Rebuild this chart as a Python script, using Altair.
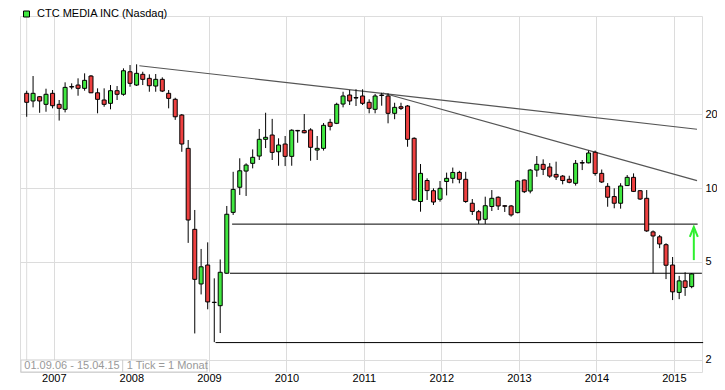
import altair as alt
import pandas as pd

# ---------------- data (monthly candles, Sep 2006 .. Apr 2015) ----------------
dates = pd.date_range("2006-09-01", periods=104, freq="MS").strftime("%Y-%m-%d").tolist()

opens = [24.28, 22.60, 23.52, 21.90, 24.28, 21.90, 20.90, 25.87, 26.24, 25.44,
         28.55, 24.40, 22.81, 22.11, 24.88, 24.06, 29.72, 26.24, 29.01, 27.94,
         25.99, 27.68, 24.28, 22.96, 19.81, 14.50, 6.79, 4.07, 4.86, 3.43,
         3.32, 4.50, 7.96, 10.07, 11.72, 12.60, 13.49, 15.78, 16.43, 14.04,
         15.10, 13.45, 17.15, 17.12, 17.23, 14.27, 14.50, 18.50, 18.33, 21.96,
         23.90, 23.34, 23.68, 22.32, 20.90, 23.90, 23.68, 20.13, 21.41, 21.56,
         15.93, 8.81, 10.73, 9.75, 9.00, 10.63, 10.95, 11.57, 10.85, 8.67,
         8.01, 7.46, 8.41, 9.17, 8.47, 8.45, 7.94, 10.78, 9.72, 11.83,
         12.48, 12.17, 11.36, 11.18, 10.85, 10.45, 12.69, 12.66, 13.98, 11.47,
         10.16, 9.23, 8.67, 10.23, 11.05, 9.75, 9.08, 6.63, 6.33, 5.88,
         4.86, 3.76, 4.19, 3.97]
highs = [24.88, 28.55, 23.68, 25.35, 25.04, 22.81, 26.91, 26.66, 27.94, 29.28,
         28.82, 25.44, 25.44, 26.24, 25.99, 30.68, 31.65, 31.86, 29.72, 29.01,
         29.09, 28.20, 25.04, 23.29, 20.00, 15.68, 8.14, 5.65, 6.01, 4.29,
         5.12, 8.45, 11.64, 13.21, 12.60, 14.36, 17.39, 20.24, 19.11, 15.93,
         16.28, 17.34, 17.23, 20.00, 17.51, 16.28, 18.38, 19.11, 22.23, 24.64,
         25.04, 25.21, 25.21, 22.96, 24.12, 24.40, 24.28, 22.23, 22.23, 21.76,
         16.08, 12.52, 10.95, 9.97, 10.68, 11.55, 12.11, 11.75, 11.64, 9.02,
         8.14, 9.22, 9.81, 9.25, 8.49, 8.53, 10.78, 10.82, 11.94, 13.49,
         13.08, 12.63, 12.80, 11.29, 11.22, 13.00, 13.00, 14.20, 14.20, 11.89,
         10.47, 9.97, 10.46, 11.29, 11.47, 9.81, 9.81, 6.72, 6.44, 5.96,
         5.24, 4.39, 4.54, 4.51]
lows = [19.49, 21.29, 20.23, 20.43, 21.09, 18.81, 20.31, 25.21, 23.74, 24.88,
        24.33, 20.13, 21.41, 20.90, 22.81, 23.74, 25.82, 26.00, 26.24, 24.64,
        24.64, 24.57, 21.09, 18.93, 14.04, 5.98, 2.56, 3.69, 3.21, 2.36,
        2.57, 4.48, 7.77, 9.37, 9.28, 12.02, 13.00, 14.54, 13.00, 12.32,
        12.28, 12.32, 15.28, 16.69, 12.91, 13.00, 14.20, 17.15, 18.20, 21.29,
        21.76, 21.56, 21.76, 20.13, 20.13, 21.62, 18.33, 19.05, 20.76, 14.72,
        8.90, 8.01, 8.94, 8.53, 8.80, 9.33, 10.45, 10.45, 8.70, 7.77,
        7.14, 7.14, 8.06, 8.14, 7.99, 7.65, 7.89, 9.54, 9.51, 11.11,
        11.29, 11.00, 10.78, 10.35, 10.45, 10.23, 11.83, 12.60, 11.22, 10.48,
        8.39, 8.27, 8.24, 10.19, 9.63, 8.94, 6.63, 4.50, 5.69, 4.26,
        3.50, 3.53, 3.64, 3.91]
closes = [22.32, 24.28, 22.60, 24.06, 21.62, 21.09, 25.67, 25.75, 25.44, 27.42,
          24.40, 22.95, 21.90, 24.88, 24.06, 30.00, 26.66, 29.28, 27.68, 26.07,
          27.68, 24.80, 23.16, 19.49, 15.10, 7.41, 4.25, 4.78, 3.44, 3.42,
          4.54, 7.82, 9.87, 11.75, 12.40, 13.33, 15.78, 16.08, 13.96, 14.96,
          13.45, 17.18, 17.07, 16.78, 14.64, 14.50, 17.99, 17.82, 21.90, 23.68,
          22.60, 23.23, 22.11, 21.09, 23.68, 23.79, 20.13, 21.29, 21.09, 15.78,
          8.94, 11.47, 9.76, 8.77, 9.97, 10.95, 11.57, 10.85, 8.81, 8.03,
          7.41, 8.47, 9.08, 8.45, 8.43, 7.77, 10.68, 9.66, 11.83, 12.48,
          11.91, 11.18, 11.08, 10.73, 10.55, 12.60, 12.63, 13.88, 11.45, 10.58,
          9.17, 8.67, 10.19, 11.05, 9.69, 9.02, 6.69, 6.38, 5.92, 4.85,
          3.78, 4.19, 3.94, 4.47]

series_name = "CTC MEDIA INC (Nasdaq)"
range_text = "01.09.06 - 15.04.15"
tick_text = "1 Tick = 1 Monat"
year_ticks = list(range(2007, 2016))
price_ticks = [2, 5, 10, 20]

# trend lines (start date, start value, end date, end value)
trend_start_dates = ["2008-02-14", "2011-04-07"]
trend_start_vals = [31.44, 24.35]
trend_end_dates = ["2015-04-26", "2015-04-26"]
trend_end_vals = [17.34, 10.71]

# horizontal support / resistance lines
hl_start_dates = ["2009-04-26", "2009-04-16", "2009-02-07"]
hl_end_dates = ["2015-04-29", "2015-05-19", "2015-05-25"]
hl_vals = [7.13, 4.50, 2.35]

# green arrow annotation
arrow_date = ["2015-04-11"]
arrow_from = [5.09]
arrow_to = [6.90]
arrow_head = [6.63]

GREEN = "#40e840"
RED = "#ee4040"
ARROW = "#2ef02e"
GRID = "#dcdcdc"
FONT = "Liberation Sans"

candles = pd.DataFrame({"date": dates, "open": opens, "high": highs,
                        "low": lows, "close": closes})
candles["dir"] = ["up" if c >= o else "down" for o, c in zip(opens, closes)]

trends = pd.DataFrame({"d1": trend_start_dates, "v1": trend_start_vals,
                       "d2": trend_end_dates, "v2": trend_end_vals})
hlines = pd.DataFrame({"d1": hl_start_dates, "d2": hl_end_dates, "v": hl_vals})
arrow = pd.DataFrame({"date": arrow_date, "lo": arrow_from, "hi": arrow_to,
                      "head": arrow_head})
info = pd.DataFrame({"a": [range_text], "b": [tick_text]})
first = pd.DataFrame({"date": [dates[0]]})

XS = alt.Scale(type="utc", domain=[alt.DateTime(year=2006, month=8, date=24, utc=True),
                                    alt.DateTime(year=2015, month=4, date=26, utc=True)])
XAX = alt.Axis(values=[alt.DateTime(year=y, month=1, date=7, utc=True) for y in year_ticks],
               format="%Y", title=None, ticks=False, domain=False, labelFontSize=11,
               labelPadding=9, labelBaseline="alphabetic", labelColor="black",
               gridColor=GRID, labelFont=FONT)
YS = alt.Scale(type="log", domain=[1.784, 50.1], nice=False)
YAX = alt.Axis(orient="right", values=price_ticks, format="~g", title=None, ticks=False,
               domain=False, labelFontSize=11, labelPadding=3, labelColor="black",
               gridColor=GRID, labelFont=FONT, labelAlign="left", labelBaseline="middle")


def X(f):
    return alt.X(f, type="temporal", scale=XS, axis=XAX)


def Y(f):
    return alt.Y(f, type="quantitative", scale=YS, axis=YAX)


firstline = alt.Chart(first).mark_rule(color=GRID, strokeWidth=1).encode(x=X("date"))

box = alt.Chart(info).mark_rect(fill="white", stroke="#cccccc", strokeWidth=1).encode(
    x=alt.value(1), x2=alt.value(187), y=alt.value(344), y2=alt.value(356))
sep = alt.Chart(info).mark_rule(color="#cccccc", strokeWidth=1).encode(
    x=alt.value(102.7), y=alt.value(344), y2=alt.value(356))
txt_a = alt.Chart(info).mark_text(align="left", baseline="middle", fontSize=11,
                                  color="#999999", font=FONT).encode(
    x=alt.value(4.3), y=alt.value(350), text="a:N")
txt_b = alt.Chart(info).mark_text(align="left", baseline="middle", fontSize=11,
                                  color="#999999", font=FONT).encode(
    x=alt.value(106.7), y=alt.value(350), text="b:N")

hl = alt.Chart(hlines).mark_rule(color="black", strokeWidth=1).encode(
    x=X("d1"), x2="d2:T", y=Y("v"))
tl = alt.Chart(trends).mark_rule(color="#555555", strokeWidth=1.2).encode(
    x=X("d1"), x2="d2:T", y=Y("v1"), y2="v2:Q")

wick = alt.Chart(candles).mark_rule(color="black", strokeWidth=1).encode(
    x=X("date"), y=Y("low"), y2="high:Q")
body = alt.Chart(candles).mark_bar(size=4, stroke="black", strokeWidth=1).encode(
    x=X("date"), y=Y("open"), y2="close:Q",
    color=alt.Color("dir:N", scale=alt.Scale(domain=["up", "down"], range=[GREEN, RED]),
                    legend=alt.Legend(values=["up"], labelExpr=f"'{series_name}'",
                                      orient="none", legendX=1, legendY=-7.5, title=None,
                                      symbolType="square", symbolSize=36,
                                      symbolStrokeColor="black", symbolStrokeWidth=1,
                                      symbolFillColor=GREEN,
                                      labelFontSize=11, labelFont=FONT, labelColor="black",
                                      padding=0, labelOffset=5)))

shaft = alt.Chart(arrow).mark_rule(color=ARROW, strokeWidth=2).encode(
    x=X("date"), y=Y("lo"), y2="hi:Q")
head = alt.Chart(arrow).mark_point(shape="M-0.8,1L0,-1L0.8,1", filled=False, color=ARROW,
                                   strokeWidth=2, size=100, opacity=1).encode(
    x=X("date"), y=Y("head"))

chart = alt.layer(firstline, box, sep, txt_a, txt_b, hl, tl, wick, body, shaft, head).properties(
    width=682, height=356,
    padding={"left": 12, "top": 8, "right": 15, "bottom": 10},
    autosize=alt.AutoSizeParams(type="none"),
    background="white",
).configure_view(stroke="#c8c8c8", strokeWidth=1).configure(font=FONT)

chart.save("out.html", embed_options={"renderer": "svg", "actions": False})
